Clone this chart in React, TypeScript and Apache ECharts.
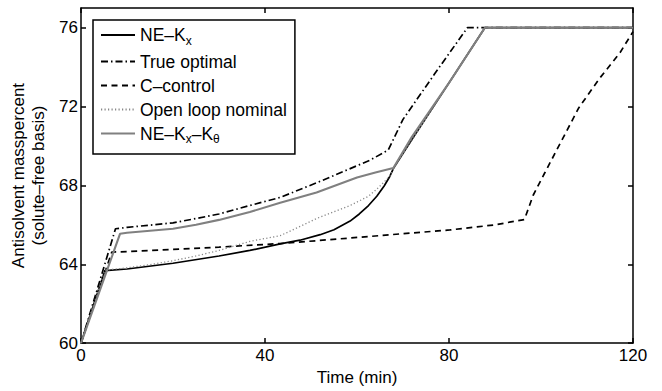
import React, { useEffect, useRef } from "react";
import * as echarts from "echarts";

// ---- data ----
const neKxT = [0, 5.2, 10, 20, 30, 36.7, 43.3, 47.6, 52, 55, 58.5, 60.5, 62.5, 64.3, 65.9, 67, 67.9, 72, 80, 87.8, 100, 120];
const neKxY = [60, 63.68, 63.76, 64.05, 64.42, 64.7, 65.03, 65.22, 65.5, 65.75, 66.19, 66.55, 66.98, 67.45, 67.97, 68.4, 68.85, 70.35, 73.2, 76, 76, 76];

const trueOptT = [0, 7.5, 10, 20, 25, 30, 36.7, 43.3, 51.2, 58, 63, 66.8, 70, 77, 84, 100, 120];
const trueOptY = [60, 65.8, 65.87, 66.1, 66.32, 66.55, 66.98, 67.39, 68.13, 68.8, 69.3, 69.8, 71.35, 73.7, 76, 76, 76];

const cCtrlT = [0, 6.7, 10, 20, 30, 43.3, 58.5, 70, 80.2, 90, 96.4, 98.3, 100.8, 104.5, 108.2, 112.7, 117.2, 120];
const cCtrlY = [60, 64.62, 64.64, 64.75, 64.87, 65.05, 65.33, 65.55, 65.74, 66.0, 66.27, 67.5, 68.63, 70.28, 71.93, 73.42, 74.74, 75.8];

const openLoopT = [0, 5.2, 10, 15, 20, 25, 30, 36.7, 43.3, 47, 51.2, 58.5, 62.5, 64.3, 66, 67.2, 68.2, 87.8, 120];
const openLoopY = [60, 63.7, 63.82, 63.98, 64.18, 64.42, 64.7, 65.16, 65.45, 65.85, 66.32, 66.98, 67.45, 67.81, 68.2, 68.5, 68.95, 76, 76];

const neKxKthT = [0, 8.5, 10, 20, 25, 30, 36.7, 43.3, 51.2, 60, 64, 67.9, 71.9, 80, 87.8, 120];
const neKxKthY = [60, 65.55, 65.6, 65.8, 66.0, 66.25, 66.65, 67.12, 67.64, 68.4, 68.65, 68.88, 70.45, 73.2, 76, 76];

const seriesNames = ["NE-Kx", "True optimal", "C-control", "Open loop nominal", "NE-Kx-Ktheta"];
const legendLabels: Record<string, string> = {
  "NE-Kx": "{n|NE\u2013K}{s|x}",
  "True optimal": "{n|True optimal}",
  "C-control": "{n|C\u2013control}",
  "Open loop nominal": "{n|Open loop nominal}",
  "NE-Kx-Ktheta": "{n|NE\u2013K}{s|x}{n|\u2013K}{s|\u03b8}",
};
const xTicks = [0, 40, 80, 120];
const yTicks = [60, 64, 68, 72, 76];

const zip = (t: number[], y: number[]) => t.map((v, i) => [v, y[i]]);

const FONT = "'Liberation Sans', Arial, Helvetica, sans-serif";

export default function App() {
  const ref = useRef<HTMLDivElement>(null);
  useEffect(() => {
    if (!ref.current) return;
    const chart = echarts.init(ref.current, undefined, { renderer: "svg" });
    const axisCommon = {
      type: "value" as const,
      axisLine: { show: true, onZero: false, lineStyle: { color: "#000", width: 1.5 } },
      axisTick: { show: true, inside: true, length: 5, lineStyle: { color: "#000", width: 1.5 } },
      splitLine: { show: false },
    };
    const lineBase = { type: "line" as const, showSymbol: false, symbol: "none", smooth: false, animation: false };
    chart.setOption({
      animation: false,
      textStyle: { fontFamily: FONT },
      grid: { left: 81, right: 29, top: 8, bottom: 40, containLabel: false },
      legend: {
        orient: "vertical",
        left: 93,
        top: 20,
        padding: [6, 8, 9, 7],
        backgroundColor: "#fff",
        borderColor: "#000",
        borderWidth: 1.5,
        borderRadius: 0,
        itemWidth: 34,
        itemHeight: 14,
        itemGap: 6,
        data: seriesNames,
        itemStyle: { color: "rgba(0,0,0,0)", borderColor: "rgba(0,0,0,0)", borderWidth: 0, opacity: 0 },
        formatter: (name: string) => legendLabels[name],
        textStyle: {
          fontFamily: FONT,
          rich: {
            n: { fontSize: 17.5, lineHeight: 23, color: "#000", fontFamily: FONT },
            s: { fontSize: 12, lineHeight: 12, verticalAlign: "bottom", color: "#000", fontFamily: FONT },
          },
        },
      },
      xAxis: [
        {
          ...axisCommon,
          min: 0,
          max: 120,
          interval: 40,
          position: "bottom",
          name: "Time (min)",
          nameLocation: "middle",
          nameGap: 20,
          nameTextStyle: { fontSize: 17, color: "#000", fontFamily: FONT },
          axisLabel: { fontSize: 17, color: "#000", margin: 4, fontFamily: FONT, customValues: xTicks },
        },
        {
          ...axisCommon,
          min: 0,
          max: 120,
          interval: 40,
          position: "top",
          axisLabel: { show: false },
        },
      ],
      yAxis: [
        {
          ...axisCommon,
          min: 60,
          max: 77,
          interval: 4,
          position: "left",
          name: "Antisolvent masspercent\n(solute\u2013free basis)",
          nameLocation: "middle",
          nameGap: 30,
          nameTextStyle: { fontSize: 17, lineHeight: 20, color: "#000", fontFamily: FONT, align: "center" },
          axisLabel: { fontSize: 17, color: "#000", margin: 3, fontFamily: FONT, customValues: yTicks },
          axisTick: { ...axisCommon.axisTick, customValues: yTicks },
        },
        {
          ...axisCommon,
          min: 60,
          max: 77,
          interval: 4,
          position: "right",
          axisLabel: { show: false },
          axisTick: { ...axisCommon.axisTick, customValues: yTicks },
        },
      ],
      series: [
        {
          ...lineBase,
          name: seriesNames[0],
          data: zip(neKxT, neKxY),
          lineStyle: { color: "#000", width: 1.7, type: "solid" },
          itemStyle: { color: "#000" },
          z: 2,
        },
        {
          ...lineBase,
          name: seriesNames[1],
          data: zip(trueOptT, trueOptY),
          lineStyle: { color: "#000", width: 1.7, type: [7, 3, 1.5, 3] },
          itemStyle: { color: "#000" },
          z: 3,
        },
        {
          ...lineBase,
          name: seriesNames[2],
          data: zip(cCtrlT, cCtrlY),
          lineStyle: { color: "#000", width: 1.7, type: [6, 4.5] },
          itemStyle: { color: "#000" },
          z: 4,
        },
        {
          ...lineBase,
          name: seriesNames[3],
          data: zip(openLoopT, openLoopY),
          lineStyle: { color: "#888", width: 1.3, type: [1.2, 2.3] },
          itemStyle: { color: "#888" },
          z: 5,
        },
        {
          ...lineBase,
          name: seriesNames[4],
          data: zip(neKxKthT, neKxKthY),
          lineStyle: { color: "#808080", width: 2.1, type: "solid" },
          itemStyle: { color: "#808080" },
          z: 6,
        },
      ],
    });
    return () => chart.dispose();
  }, []);
  return (
    <div
      ref={ref}
      style={{ position: "fixed", left: 0, top: 0, width: 662, height: 391, background: "#fff" }}
    />
  );
}
